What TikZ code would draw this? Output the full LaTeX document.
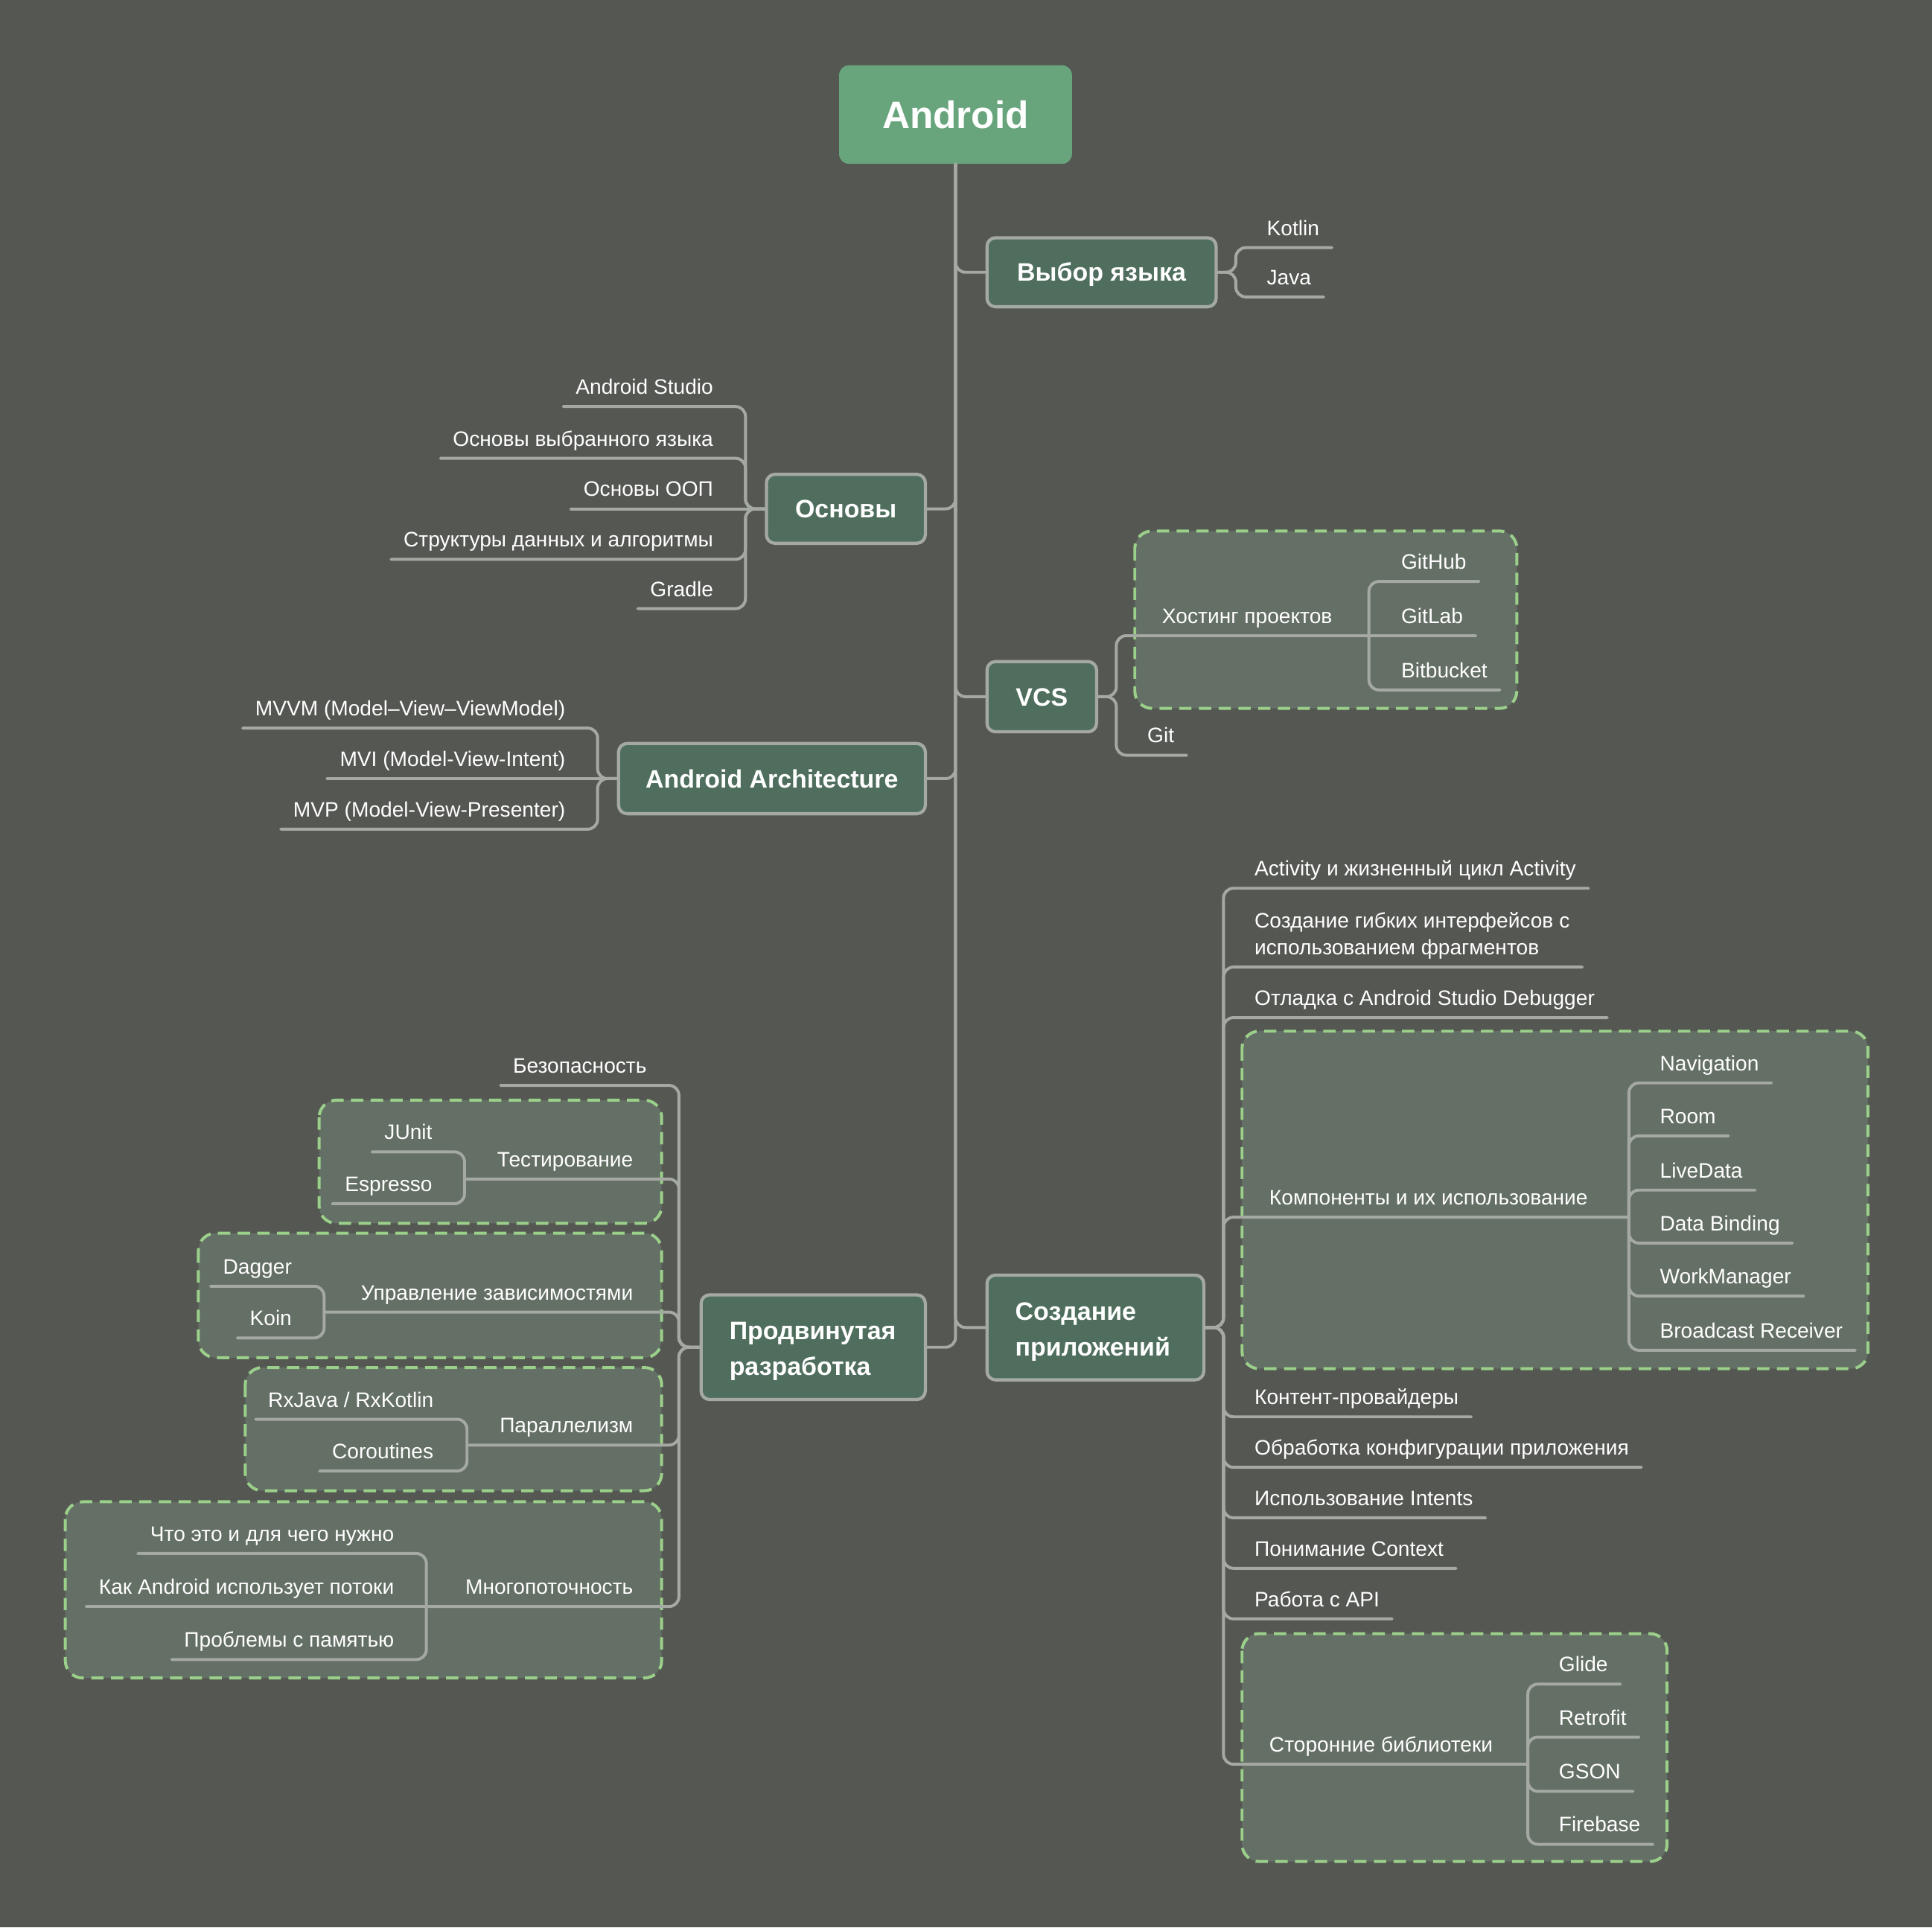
\documentclass[tikz,border=0pt]{standalone}
\usepackage{fontspec}
\setmainfont{Liberation Sans}
\definecolor{bgc}{RGB}{85,87,82}
\definecolor{rootg}{RGB}{104,165,124}
\definecolor{nodeg}{RGB}{79,110,93}
\definecolor{grpc}{RGB}{100,111,101}
\definecolor{dashc}{RGB}{155,208,138}
\definecolor{linec}{RGB}{164,169,163}
\begin{document}
\begin{tikzpicture}[x=1pt,y=-1pt,
  conn/.style={draw=linec,line width=2.4pt,rounded corners=8pt,line cap=round},
  lbl/.style={text=white,font=\fontsize{17}{22}\selectfont,inner sep=0pt},
  lone/.style={draw=linec,line width=2.6pt,fill=nodeg,rounded corners=7pt,text=white,
    font=\bfseries\fontsize{20.5}{29}\selectfont,inner sep=0pt,align=center},
  oneline/.style={text height=14.7pt,text depth=0pt},
  rootbox/.style={fill=rootg,rounded corners=8pt,text=white,inner sep=0pt,
    font=\bfseries\fontsize{31}{36}\selectfont},
  grp/.style={draw=dashc,line width=2.4pt,dash pattern=on 10pt off 6pt,fill=grpc,rounded corners=14pt}]
\fill[bgc] (0,0) rectangle (1568,1564.4);
\useasboundingbox (0,0) rectangle (1568,1564.4);

% group containers
\draw[grp] (921,431) rectangle (1231,575);
\draw[grp] (1008,837) rectangle (1516,1111);
\draw[grp] (1008,1326) rectangle (1353,1511);
\draw[grp] (259,893) rectangle (537,993);
\draw[grp] (161,1001) rectangle (537,1102);
\draw[grp] (199,1110) rectangle (537,1210);
\draw[grp] (53,1219) rectangle (537,1362);

% root and main topics
\node[rootbox,minimum width=189pt,minimum height=80pt] (root) at (775.5,93) {Android};
\node[lone,oneline,minimum width=186pt,minimum height=56pt] (lang) at (894,221) {Выбор языка};
\node[lone,oneline,minimum width=129pt,minimum height=56pt] (osn) at (686.5,413) {Основы};
\node[lone,oneline,minimum width=89pt,minimum height=57pt] (vcs) at (845.5,565.5) {VCS};
\node[lone,oneline,minimum width=249pt,minimum height=57pt] (arch) at (626.5,632) {Android Architecture};
\node[lone,minimum width=176pt,minimum height=85pt,text width=130pt,align=left] (app) at (889,1077.5) {\rule{0pt}{21pt}\mbox{Создание}\\\mbox{приложений}};
\node[lone,minimum width=182pt,minimum height=85pt,text width=136pt,align=left] (adv) at (660,1093.5) {\rule{0pt}{21pt}\mbox{Продвинутая}\\\mbox{разработка}};

% junctions
\coordinate (langJ) at (1003,221);
\coordinate (osnJ) at (605,413);
\coordinate (vcsJ) at (906,565.5);
\coordinate (hostJ) at (1111,516);
\coordinate (archJ) at (485,632);
\coordinate (appJ) at (993,1077.5);
\coordinate (compJ) at (1322,988);
\coordinate (libJ) at (1240,1432);
\coordinate (advJ) at (551,1093.5);
\coordinate (testJ) at (377,957);
\coordinate (diJ) at (263,1065);
\coordinate (parJ) at (379,1173);
\coordinate (mtJ) at (346,1304);

% labels: Выбор языка
\node[lbl,anchor=base west] (kotlin) at (1028,191) {Kotlin};
\node[lbl,anchor=base west] (java) at (1028,231) {Java};
% Основы
\node[lbl,anchor=base east] (as) at (579,320) {Android Studio};
\node[lbl,anchor=base east] (ovy) at (579,362) {Основы выбранного языка};
\node[lbl,anchor=base east] (oop) at (579,403) {Основы ООП};
\node[lbl,anchor=base east] (sda) at (579,444) {Структуры данных и алгоритмы};
\node[lbl,anchor=base east] (gradle) at (579,484) {Gradle};
% VCS
\node[lbl,anchor=base west] (host) at (943,506) {Хостинг проектов};
\node[lbl,anchor=base west] (git) at (931,603) {Git};
\node[lbl,anchor=base west] (github) at (1137,462) {GitHub};
\node[lbl,anchor=base west] (gitlab) at (1137,506) {GitLab};
\node[lbl,anchor=base west] (bitbucket) at (1137,550) {Bitbucket};
% Architecture
\node[lbl,anchor=base east] (mvvm) at (459,581) {MVVM (Model–View–ViewModel)};
\node[lbl,anchor=base east] (mvi) at (459,622) {MVI (Model-View-Intent)};
\node[lbl,anchor=base east] (mvp) at (459,663) {MVP (Model-View-Presenter)};
% Создание приложений
\node[lbl,anchor=base west] (act) at (1018,711) {Activity и жизненный цикл Activity};
\node[lbl,anchor=base west] (flex) at (1018,775) {\begin{tabular}[b]{@{}l@{}}Создание гибких интерфейсов с\\использованием фрагментов\end{tabular}};
\node[lbl,anchor=base west] (dbg) at (1018,816) {Отладка с Android Studio Debugger};
\node[lbl,anchor=base west] (comp) at (1030,978) {Компоненты и их использование};
\node[lbl,anchor=base west] (cp) at (1018,1140) {Контент-провайдеры};
\node[lbl,anchor=base west] (cfg) at (1018,1181) {Обработка конфигурации приложения};
\node[lbl,anchor=base west] (intents) at (1018,1222) {Использование Intents};
\node[lbl,anchor=base west] (ctx) at (1018,1263) {Понимание Context};
\node[lbl,anchor=base west] (api) at (1018,1304) {Работа с API};
\node[lbl,anchor=base west] (lib) at (1030,1422) {Сторонние библиотеки};
\node[lbl,anchor=base west] (nav) at (1347,869) {Navigation};
\node[lbl,anchor=base west] (room) at (1347,912) {Room};
\node[lbl,anchor=base west] (live) at (1347,956) {LiveData};
\node[lbl,anchor=base west] (dbind) at (1347,999) {Data Binding};
\node[lbl,anchor=base west] (wm) at (1347,1042) {WorkManager};
\node[lbl,anchor=base west] (br) at (1347,1086) {Broadcast Receiver};
\node[lbl,anchor=base west] (glide) at (1265,1357) {Glide};
\node[lbl,anchor=base west] (retro) at (1265,1400) {Retrofit};
\node[lbl,anchor=base west] (gson) at (1265,1444) {GSON};
\node[lbl,anchor=base west] (fb) at (1265,1487) {Firebase};
% Продвинутая разработка
\node[lbl,anchor=base east] (sec) at (525,871) {Безопасность};
\node[lbl,anchor=base east] (test) at (514,947) {Тестирование};
\node[lbl,anchor=base east] (junit) at (351,925) {JUnit};
\node[lbl,anchor=base east] (esp) at (351,967) {Espresso};
\node[lbl,anchor=base east] (di) at (514,1055) {Управление зависимостями};
\node[lbl,anchor=base east] (dagger) at (237,1034) {Dagger};
\node[lbl,anchor=base east] (koin) at (237,1076) {Koin};
\node[lbl,anchor=base east] (par) at (514,1163) {Параллелизм};
\node[lbl,anchor=base east] (rx) at (352,1142) {RxJava / RxKotlin};
\node[lbl,anchor=base east] (cor) at (352,1184) {Coroutines};
\node[lbl,anchor=base east] (mt) at (514,1294) {Многопоточность};
\node[lbl,anchor=base east] (what) at (320,1251) {Что это и для чего нужно};
\node[lbl,anchor=base east] (how) at (320,1294) {Как Android использует потоки};
\node[lbl,anchor=base east] (mem) at (320,1337) {Проблемы с памятью};

% main trunk
\draw[conn] (root.south) |- (lang.west);
\draw[conn] (root.south) |- (osn.east);
\draw[conn] (root.south) |- (vcs.west);
\draw[conn] (root.south) |- (arch.east);
\draw[conn] (root.south) |- (app.west);
\draw[conn] (root.south) |- (adv.east);

% Выбор языка
\draw[conn] (lang.east) -- (langJ) |- ([shift={(10pt,-10pt)}]kotlin.base east);
\draw[conn] (lang.east) -- (langJ) |- ([shift={(10pt,-10pt)}]java.base east);
% Основы
\draw[conn] (osn.west) -- (osnJ) |- ([shift={(-10pt,-10pt)}]as.base west);
\draw[conn] (osn.west) -- (osnJ) |- ([shift={(-10pt,-10pt)}]ovy.base west);
\draw[conn] (osn.west) -- ([shift={(-10pt,-10pt)}]oop.base west);
\draw[conn] (osn.west) -- (osnJ) |- ([shift={(-10pt,-10pt)}]sda.base west);
\draw[conn] (osn.west) -- (osnJ) |- ([shift={(-10pt,-10pt)}]gradle.base west);
% VCS
\draw[conn] (vcs.east) -- (vcsJ) |- (hostJ);
\draw[conn] (vcs.east) -- (vcsJ) |- ([shift={(10pt,-10pt)}]git.base east);
\draw[conn] (hostJ) |- ([shift={(10pt,-10pt)}]github.base east);
\draw[conn] (hostJ) -- ([shift={(10pt,-10pt)}]gitlab.base east);
\draw[conn] (hostJ) |- ([shift={(10pt,-10pt)}]bitbucket.base east);
% Architecture
\draw[conn] (arch.west) -- (archJ) |- ([shift={(-10pt,-10pt)}]mvvm.base west);
\draw[conn] (arch.west) -- ([shift={(-10pt,-10pt)}]mvi.base west);
\draw[conn] (arch.west) -- (archJ) |- ([shift={(-10pt,-10pt)}]mvp.base west);
% Создание приложений
\draw[conn] (app.east) -- (appJ) |- ([shift={(10pt,-10pt)}]act.base east);
\draw[conn] (app.east) -- (appJ) |- ([shift={(10pt,-10pt)}]flex.base east);
\draw[conn] (app.east) -- (appJ) |- ([shift={(10pt,-10pt)}]dbg.base east);
\draw[conn] (app.east) -- (appJ) |- (compJ);
\draw[conn] (app.east) -- (appJ) |- ([shift={(10pt,-10pt)}]cp.base east);
\draw[conn] (app.east) -- (appJ) |- ([shift={(10pt,-10pt)}]cfg.base east);
\draw[conn] (app.east) -- (appJ) |- ([shift={(10pt,-10pt)}]intents.base east);
\draw[conn] (app.east) -- (appJ) |- ([shift={(10pt,-10pt)}]ctx.base east);
\draw[conn] (app.east) -- (appJ) |- ([shift={(10pt,-10pt)}]api.base east);
\draw[conn] (app.east) -- (appJ) |- (libJ);
\draw[conn] (compJ) |- ([shift={(10pt,-10pt)}]nav.base east);
\draw[conn] (compJ) |- ([shift={(10pt,-10pt)}]room.base east);
\draw[conn] (compJ) |- ([shift={(10pt,-10pt)}]live.base east);
\draw[conn] (compJ) |- ([shift={(10pt,-10pt)}]dbind.base east);
\draw[conn] (compJ) |- ([shift={(10pt,-10pt)}]wm.base east);
\draw[conn] (compJ) |- ([shift={(10pt,-10pt)}]br.base east);
\draw[conn] (libJ) |- ([shift={(10pt,-10pt)}]glide.base east);
\draw[conn] (libJ) |- ([shift={(10pt,-10pt)}]retro.base east);
\draw[conn] (libJ) |- ([shift={(10pt,-10pt)}]gson.base east);
\draw[conn] (libJ) |- ([shift={(10pt,-10pt)}]fb.base east);
% Продвинутая разработка
\draw[conn] (adv.west) -- (advJ) |- ([shift={(-10pt,-10pt)}]sec.base west);
\draw[conn] (adv.west) -- (advJ) |- (testJ);
\draw[conn] (adv.west) -- (advJ) |- (diJ);
\draw[conn] (adv.west) -- (advJ) |- (parJ);
\draw[conn] (adv.west) -- (advJ) |- (mtJ);
\draw[conn] (testJ) |- ([shift={(-10pt,-10pt)}]junit.base west);
\draw[conn] (testJ) |- ([shift={(-10pt,-10pt)}]esp.base west);
\draw[conn] (diJ) |- ([shift={(-10pt,-10pt)}]dagger.base west);
\draw[conn] (diJ) |- ([shift={(-10pt,-10pt)}]koin.base west);
\draw[conn] (parJ) |- ([shift={(-10pt,-10pt)}]rx.base west);
\draw[conn] (parJ) |- ([shift={(-10pt,-10pt)}]cor.base west);
\draw[conn] (mtJ) |- ([shift={(-10pt,-10pt)}]what.base west);
\draw[conn] (mtJ) -- ([shift={(-10pt,-10pt)}]how.base west);
\draw[conn] (mtJ) |- ([shift={(-10pt,-10pt)}]mem.base west);
\end{tikzpicture}
\end{document}
